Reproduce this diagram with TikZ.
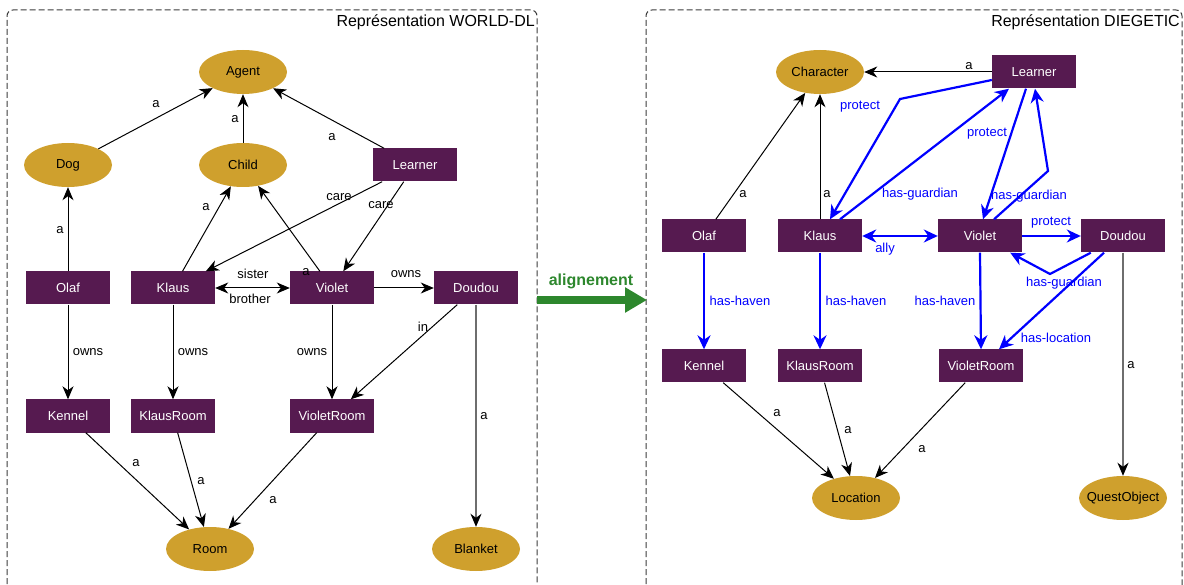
\documentclass[tikz,border=0pt]{standalone}
\usepackage{fontspec}
\setmainfont{Liberation Sans}
\usetikzlibrary{arrows.meta,shapes.geometric}
\definecolor{boxc}{RGB}{86,26,80}
\definecolor{ellc}{RGB}{207,160,45}
\definecolor{bluec}{RGB}{0,0,255}
\definecolor{greenc}{RGB}{45,135,45}
\definecolor{panelc}{RGB}{60,60,60}
\definecolor{grayl}{RGB}{110,110,110}
\begin{document}
\begin{tikzpicture}[x=1pt,y=-1pt,font=\fontsize{13}{15}\selectfont,
  box/.style={fill=boxc,text=white,minimum width=84pt,minimum height=33pt,inner sep=0pt},
  ell/.style={ellipse,fill=ellc,text=black,minimum width=88pt,minimum height=44pt,inner sep=0pt},
  blk/.style={draw=black,line width=1pt,-{Stealth[length=13pt,width=11pt,inset=4pt]}},
  blkboth/.style={draw=black,line width=1pt,{Stealth[length=13pt,width=11pt,inset=4pt]}-{Stealth[length=13pt,width=11pt,inset=4pt]}},
  gry/.style={draw=grayl,line width=1.5pt,-{Stealth[length=13pt,width=11pt,inset=4pt,color=black]}},
  blu/.style={draw=bluec,line width=2.2pt,line join=miter,-{Stealth[length=14pt,width=13pt,inset=4.5pt]}},
  bluboth/.style={draw=bluec,line width=2.2pt,{Stealth[length=14pt,width=13pt,inset=4.5pt]}-{Stealth[length=14pt,width=13pt,inset=4.5pt]}},
  lbl/.style={inner sep=0pt,text=black},
  bl/.style={inner sep=0pt,text=bluec},
  panel/.style={draw=panelc,line width=1pt,dash pattern=on 6pt off 3pt,rounded corners=6pt},
  title/.style={inner sep=0pt,font=\fontsize{16}{18}\selectfont,text=black}]
\useasboundingbox (0,0) rectangle (1184,585);
\clip (0,0) rectangle (1184,585);

% panels
\draw[panel] (7,620) -- (7,10) -- (537,10) -- (537,620);
\draw[panel] (646,620) -- (646,10) -- (1182,10) -- (1182,620);
\node[title,anchor=east] (t1) at (535,22) {Représentation WORLD-DL};
\node[title,anchor=east] (t2) at (1180,22) {Représentation DIEGETIC};

% alignment arrow
\coordinate (gs) at (537,300);
\coordinate (ge) at (647,300);
\draw[draw=greenc,line width=8pt,-{Triangle[length=22pt,width=24pt]}] (gs) -- (ge);
\node[inner sep=0pt,text=greenc,font=\fontsize{16}{18}\selectfont\bfseries] (galign) at (591,281) {alignement};

% ---------- left panel nodes ----------
\node[ell] (LAgent) at (243,72) {\makebox[0pt]{Agent}};
\node[ell] (LDog) at (68,165) {\makebox[0pt]{Dog}};
\node[ell] (LChild) at (243,165) {\makebox[0pt]{Child}};
\node[box] (LLearner) at (415,165) {Learner};
\node[box] (LOlaf) at (68,288) {Olaf};
\node[box] (LKlaus) at (173,288) {Klaus};
\node[box] (LViolet) at (332,288) {Violet};
\node[box] (LDoudou) at (476,288) {Doudou};
\node[box] (LKennel) at (68,416) {Kennel};
\node[box] (LKlausRoom) at (173,416) {KlausRoom};
\node[box] (LVioletRoom) at (332,416) {VioletRoom};
\node[ell] (LRoom) at (210,549) {\makebox[0pt]{Room}};
\node[ell] (LBlanket) at (476,549) {\makebox[0pt]{Blanket}};

% left edges
\draw[blk] (LDog) -- (LAgent);
\draw[blk] (LChild) -- (LAgent);
\draw[blk] (LLearner) -- (LAgent);
\draw[blk] (LOlaf) -- (LDog);
\draw[blk] (LLearner) -- (LKlaus);
\draw[blk] (LLearner) -- (LViolet);
\draw[blk] (LKlaus) -- (LChild);
\draw[blk] (LViolet) -- (LChild);
\draw[blkboth] (LKlaus) -- (LViolet);
\draw[blk] (LViolet) -- (LDoudou);
\draw[blk] (LOlaf) -- (LKennel);
\draw[blk] (LKlaus) -- (LKlausRoom);
\draw[blk] (LViolet) -- (LVioletRoom);
\draw[blk] (LDoudou) -- (LVioletRoom);
\draw[gry] (LDoudou) -- (LBlanket);
\draw[blk] (LKennel) -- (LRoom);
\draw[blk] (LKlausRoom) -- (LRoom);
\draw[blk] (LVioletRoom) -- (LRoom);

% left labels
\node[lbl] (la1) at (156,104) {a};
\node[lbl] (la2) at (235,119) {a};
\node[lbl] (la3) at (332,137) {a};
\node[lbl] (la4) at (60,230) {a};
\node[lbl] (la5) at (206,207) {a};
\node[lbl] (lc1) at (339,197) {care};
\node[lbl] (lc2) at (381,205) {care};
\node[lbl] (la6) at (306,272) {a};
\node[lbl] (ls) at (253,274) {sister};
\node[lbl] (lb) at (250,299) {brother};
\node[lbl] (lo1) at (406,274) {owns};
\node[lbl] (lo2) at (88,352) {owns};
\node[lbl] (lo3) at (193,352) {owns};
\node[lbl] (lo4) at (312,352) {owns};
\node[lbl] (lin) at (423,327) {in};
\node[lbl] (la7) at (484,416) {a};
\node[lbl] (la8) at (136,463) {a};
\node[lbl] (la9) at (201,481) {a};
\node[lbl] (la10) at (273,500) {a};

% ---------- right panel nodes ----------
\node[ell] (RCharacter) at (820,72) {\makebox[0pt]{Character}};
\node[box] (RLearner) at (1034,72) {Learner};
\node[box] (ROlaf) at (704,236) {Olaf};
\node[box] (RKlaus) at (820,236) {Klaus};
\node[box] (RViolet) at (980,236) {Violet};
\node[box] (RDoudou) at (1123,236) {Doudou};
\node[box] (RKennel) at (704,366) {Kennel};
\node[box] (RKlausRoom) at (820,366) {KlausRoom};
\node[box] (RVioletRoom) at (981,366) {VioletRoom};
\node[ell] (RLocation) at (856,498) {\makebox[0pt]{Location}};
\node[ell] (RQuest) at (1123,498) {\makebox[0pt]{QuestObject}};

\coordinate (b1) at (900,99);
\coordinate (b2) at (1048,171);
\coordinate (b3) at (1050,274);

% right edges (black)
\draw[blk] (RLearner) -- (RCharacter);
\draw[blk] (ROlaf) -- (RCharacter);
\draw[blk] (RKlaus) -- (RCharacter);
\draw[blk] (RKennel) -- (RLocation);
\draw[blk] (RKlausRoom) -- (RLocation);
\draw[blk] (RVioletRoom) -- (RLocation);
\draw[gry] (RDoudou) -- (RQuest);

% right edges (blue)
\draw[blu] ([yshift=-8pt]RLearner.west) -- (b1) -- ([xshift=10pt]RKlaus.north);
\draw[blu] ([xshift=20pt]RKlaus.north) -- ([xshift=-25pt]RLearner.south);
\draw[blu] ([xshift=-8pt]RLearner.south) -- ([xshift=3pt]RViolet.north);
\draw[blu] ([xshift=14pt]RViolet.north) -- (b2) -- ([xshift=1pt]RLearner.south);
\draw[bluboth] (RKlaus) -- (RViolet);
\draw[blu] (RViolet) -- (RDoudou);
\draw[blu] ([xshift=10pt]RDoudou.south west) -- (b3) -- ([xshift=-12pt]RViolet.south east);
\draw[blu] ([xshift=-19pt]RDoudou.south) -- ([xshift=18pt]RVioletRoom.north);
\draw[blu] (ROlaf) -- (RKennel);
\draw[blu] (RKlaus) -- (RKlausRoom);
\draw[blu] (RViolet.south) -- (RVioletRoom.north);

% right labels
\node[lbl] (ra1) at (969,66) {a};
\node[lbl] (ra2) at (743,194) {a};
\node[lbl] (ra3) at (827,194) {a};
\node[lbl] (ra4) at (1131,365) {a};
\node[lbl] (ra5) at (777,413) {a};
\node[lbl] (ra6) at (848,430) {a};
\node[lbl] (ra7) at (922,449) {a};
\node[bl] (rp1) at (860,107) {protect};
\node[bl] (rp2) at (987,134) {protect};
\node[bl] (rp3) at (1051,223) {protect};
\node[bl] (rg1) at (920,194) {has-guardian};
\node[bl] (rg2) at (1029,196) {has-guardian};
\node[bl] (rg3) at (1064,283) {has-guardian};
\node[bl] (rally) at (885,249) {ally};
\node[bl] (rh1) at (740,301) {has-haven};
\node[bl] (rh2) at (856,301) {has-haven};
\node[bl] (rh3) at (945,301) {has-haven};
\node[bl] (rloc) at (1056,338) {has-location};
\end{tikzpicture}
\end{document}
